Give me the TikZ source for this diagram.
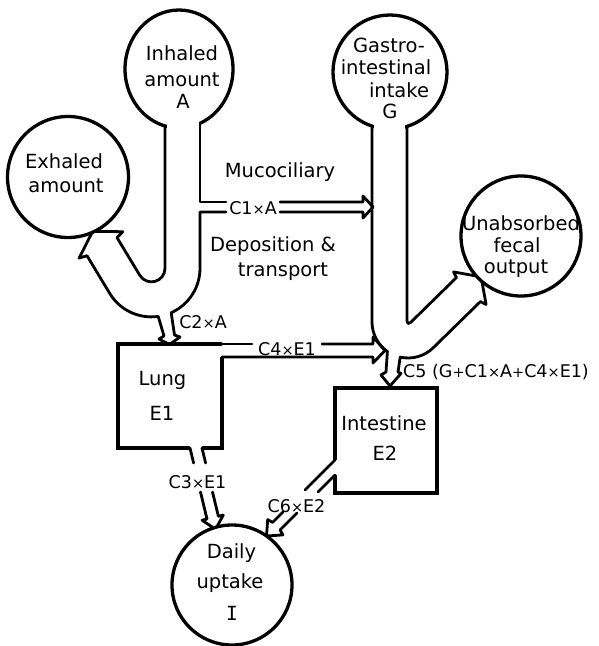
\documentclass[tikz,border=0pt]{standalone}
\usepackage{fontspec}
\setmainfont{DejaVu Sans}
\newfontfamily\monoI{DejaVu Sans Mono}
\usetikzlibrary{shapes.geometric}
\newcommand\mainsz{\fontsize{19.5}{22}\selectfont}
\newcommand\lblsz{\fontsize{17.5}{20}\selectfont}
\newcommand\tms{{\fontsize{14.5}{15}\selectfont ×}}
\newcommand\pls{{\fontsize{14.5}{15}\selectfont +}}
\begin{document}
\begin{tikzpicture}[x=1pt,y=-1pt,
  pipe/.style={line width=2.8pt,line join=round,line cap=round},
  boxline/.style={line width=4.5pt,line join=miter},
  disc/.style={circle,draw,line width=3.3pt,fill=white,inner sep=0pt,outer sep=0pt},
  oval/.style={ellipse,draw,line width=3.3pt,fill=white,inner sep=0pt,outer sep=0pt},
  txt/.style={inner sep=0pt,anchor=base,font=\mainsz},
  lbl/.style={inner sep=0pt,anchor=base,font=\lblsz}]
\useasboundingbox (0,0) rectangle (599,646);

% ---- inhaled pipe (stem, U-turn, exhaled arrow, C2 arrow)
\draw[pipe] (165,114) -- (165,268.3)
  .. controls (165,274.4) and (161.0,279.8) .. (155.1,281.4)
  .. controls (149.2,283.0) and (143.0,280.5) .. (139.8,275.3)
  -- (117,237.6) -- (122.8,231.7) -- (92.7,231.3) -- (79.1,258.1) -- (87.0,255.7) -- (109.8,293.5)
  .. controls (119.9,310.2) and (138.9,319.1) .. (158.2,316.4)
  -- (164,336) -- (159,339) -- (169.5,344.5) -- (180,337) -- (174.5,335)
  -- (171.2,312.7) .. controls (188.7,304.9) and (200,287.5) .. (200,268.3)
  -- (200,212) -- (226,212);
\draw[pipe] (226,202) -- (200,202) -- (200,114);
% C1 arrow
\draw[pipe] (280,202) -- (363,202) -- (363,196) -- (373,207) -- (363,218) -- (363,212) -- (280,212);

% ---- gastro-intestinal pipe
\draw[pipe] (372,116) -- (372,322) .. controls (372,333.7) and (377.8,344.8) .. (387.4,351.5)
  -- (386,372) -- (381,375) -- (390,386) -- (401,373.5) -- (398,372) -- (400.2,357.1)
  .. controls (412.2,359.8) and (424.8,356.2) .. (433.5,347.5)
  -- (480.4,301.6) -- (486.1,304.4) -- (481.1,276.9) -- (453.6,271.9) -- (456.4,277.6);
\draw[pipe,rounded corners=5pt] (456.4,277.6) -- (407,326) -- (407,116);

% ---- C4 arrow
\draw[pipe] (222,344) -- (252,344);
\draw[pipe] (322,344) -- (373,344) -- (373,337) -- (385,350.5) -- (373,363) -- (373,357) -- (222,357);

% ---- C3 arrow
\draw[pipe] (190,448) -- (193.6,463);
\draw[pipe] (202,448) -- (205.6,463);
\draw[pipe] (200.5,492) -- (207,519) -- (202.1,520.2) -- (215.5,529.3) -- (223.3,515.1) -- (218.4,516.3) -- (212.5,492);

% ---- C6 arrow
\draw[pipe] (335,460) -- (305,490);
\draw[pipe] (335,475) -- (318,492);
\draw[pipe] (283,512) -- (272.6,522.4) -- (267.7,519.6) -- (266.5,536) -- (282.9,534.9) -- (280.1,529.9) -- (297,513);

% ---- circles
\node[disc,minimum size=121pt] (exh) at (68,177) {};
\node[disc,minimum size=120pt] (unabs) at (521,236) {};
\node[disc,minimum size=120pt] (daily) at (232,585) {};
\node[oval,minimum width=108pt,minimum height=118pt] (inh) at (179,69) {};
\node[disc,minimum size=114pt] (gi) at (390,72) {};
\fill[white] (166.6,112) rectangle (198.6,131);
\fill[white] (373.6,119.5) rectangle (405.4,131);

% ---- boxes
\draw[boxline] (190,448) -- (118,448) -- (118,344) -- (222,344);
\draw[boxline] (202,448) -- (222,448) -- (222,357);
\draw[boxline] (335,460) -- (335,388) -- (437,388) -- (437,493) -- (335,493) -- (335,475);

% ---- texts
\node[txt] (tinh1) at (182,60) {Inhaled};
\node[txt] (tinh2) at (182,86) {amount};
\node[txt] (tinh3) at (183,108) {A};
\node[txt] (texh1) at (64,168) {Exhaled};
\node[txt] (texh2) at (66,192) {amount};
\node[txt] (tgi1) at (389,52) {Gastro-};
\node[txt] (tgi2) at (386,74) {intestinal};
\node[txt] (tgi3) at (399,97) {intake};
\node[txt] (tgi4) at (390,118) {G};
\node[txt] (tun1) at (521,230) {Unabsorbed};
\node[txt] (tun2) at (517,252) {fecal};
\node[txt] (tun3) at (516,273) {output};
\node[txt] (tmuc) at (280,177) {Mucociliary};
\node[lbl] (tc1) at (253,214.5) {C1\tms A};
\node[txt] (tdep) at (273,251) {Deposition \&};
\node[txt] (ttra) at (283,276) {transport};
\node[lbl] (tc2) at (203,328) {C2\tms A};
\node[lbl] (tc4) at (287,355) {C4\tms E1};
\node[lbl,anchor=base west] (tc5) at (403,377) {C5 (G\pls C1\tms A\pls C4\tms E1)};
\node[txt] (tlung1) at (162.5,385) {Lung};
\node[txt] (tlung2) at (162,420) {E1};
\node[txt] (tint1) at (384,430) {Intestine};
\node[txt] (tint2) at (385,460) {E2};
\node[lbl] (tc3) at (197.5,488) {C3\tms E1};
\node[lbl] (tc6) at (296.5,512) {C6\tms E2};
\node[txt] (td1) at (231.5,558) {Daily};
\node[txt] (td2) at (230,588) {uptake};
\node[txt,font=\mainsz\monoI] (td3) at (232,620) {I};
\end{tikzpicture}
\end{document}
